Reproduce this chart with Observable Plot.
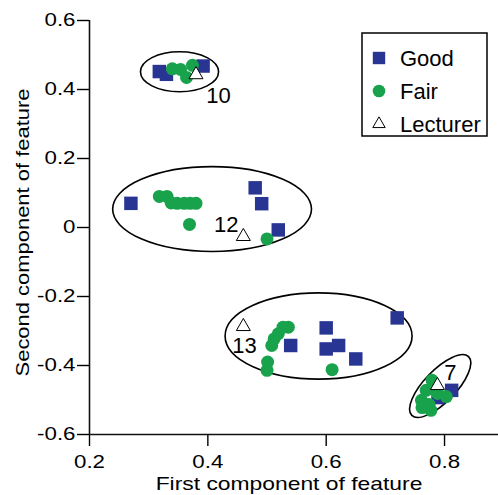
<!DOCTYPE html>
<html><head><meta charset="utf-8">
<script src="https://cdn.jsdelivr.net/npm/d3@7"></script>
<script src="https://cdn.jsdelivr.net/npm/@observablehq/plot@0.6"></script>
<style>
html,body{margin:0;padding:0;background:#fff;}
#wrap{position:relative;width:498px;height:495px;overflow:hidden;}
</style></head><body>
<div id="wrap"></div>
<script>
// ---- data ----
const xTicks = [0.2, 0.4, 0.6, 0.8];
const yTicks = [-0.6, -0.4, -0.2, 0, 0.2, 0.4, 0.6];
const xTitle = "First component of feature";
const yTitle = "Second component of feature";
const seriesNames = ["Good", "Fair", "Lecturer"];

const goodX = [0.318, 0.330, 0.392, 0.270, 0.480, 0.491, 0.519, 0.540, 0.600, 0.600, 0.621, 0.650, 0.720, 0.789, 0.812];
const goodY = [0.452, 0.444, 0.468, 0.070, 0.115, 0.069, -0.007, -0.342, -0.291, -0.352, -0.342, -0.381, -0.262, -0.493, -0.472];

const fairX = [0.340, 0.354, 0.364, 0.374,
  0.318, 0.331, 0.338, 0.348, 0.360, 0.370, 0.380, 0.369, 0.500,
  0.527, 0.536, 0.519, 0.512, 0.508, 0.501, 0.500, 0.610,
  0.779, 0.769, 0.788, 0.803, 0.761, 0.774, 0.762, 0.777];
const fairY = [0.460, 0.458, 0.435, 0.470,
  0.090, 0.090, 0.071, 0.070, 0.070, 0.070, 0.070, 0.009, -0.033,
  -0.289, -0.289, -0.308, -0.323, -0.342, -0.390, -0.414, -0.412,
  -0.443, -0.472, -0.481, -0.490, -0.501, -0.513, -0.522, -0.530];

const lectX = [0.380, 0.460, 0.460, 0.788];
const lectY = [0.443, -0.026, -0.287, -0.458];
const clusterIds = ["10", "12", "13", "7"];
const labelX = [0.418, 0.431, 0.462, 0.810];
const labelY = [0.380, 0.006, -0.342, -0.422];

// cluster ellipses (data units), angle in degrees
const ellCX = [0.353, 0.408, 0.588, 0.7935];
const ellCY = [0.450, 0.052, -0.316, -0.461];
const ellRX = [0.066, 0.168, 0.158, 0.069];
const ellRY = [0.058, 0.123, 0.125, 0.046];
const ellAngle = [0, 0, 0, 46];

const blue = "#283593";
const green = "#18a24c";

// ---- tables ----
const good = goodX.map((x, i) => ({x, y: goodY[i]}));
const fair = fairX.map((x, i) => ({x, y: fairY[i]}));
const lect = lectX.map((x, i) => ({x, y: lectY[i]}));
const labels = clusterIds.map((t, i) => ({t, x: labelX[i], y: labelY[i]}));

const NS = "http://www.w3.org/2000/svg";
const ellipseMark = (index, scales) => {
  const g = document.createElementNS(NS, "g");
  g.setAttribute("aria-label", "cluster ellipse");
  for (let i = 0; i < ellCX.length; i++) {
    const cx = scales.x(ellCX[i]), cy = scales.y(ellCY[i]);
    const rx = Math.abs(scales.x(ellCX[i] + ellRX[i]) - cx);
    const ry = Math.abs(scales.y(ellCY[i] + ellRY[i]) - cy);
    const e = document.createElementNS(NS, "ellipse");
    e.setAttribute("cx", cx); e.setAttribute("cy", cy);
    e.setAttribute("rx", rx); e.setAttribute("ry", ry);
    e.setAttribute("transform", `rotate(${-ellAngle[i]},${cx},${cy})`);
    e.setAttribute("fill", "none");
    e.setAttribute("stroke", "#000");
    e.setAttribute("stroke-width", 1.6);
    g.appendChild(e);
  }
  return g;
};

const plot = Plot.plot({
  width: 498, height: 495,
  marginLeft: 89, marginRight: 0, marginTop: 20, marginBottom: 61,
  x: {domain: [0.2, 0.8912]},
  y: {domain: [-0.6, 0.6]},
  style: {fontFamily: "'Liberation Sans', Arial, sans-serif", fontSize: "18px", color: "#000", background: "#fff", overflow: "visible"},
  marks: [
    Plot.axisX({ticks: xTicks, tickSize: 12, tickPadding: 9, tickFormat: d => String(d), label: null, strokeWidth: 1.4}),
    Plot.axisY({ticks: yTicks, tickSize: 12, tickPadding: 2, tickFormat: d => String(d), label: null, strokeWidth: 1.4}),
    Plot.ruleX([0.2], {stroke: "#111", strokeWidth: 1.6}),
    Plot.ruleY([-0.6], {stroke: "#111", strokeWidth: 1.6}),
    ellipseMark,
    Plot.dot(good, {x: "x", y: "y", symbol: "square", r: 7.6, fill: blue, stroke: "none"}),
    Plot.dot(fair, {x: "x", y: "y", symbol: "circle", r: 6.5, fill: green, stroke: "none"}),
    Plot.dot(lect, {x: "x", y: "y", symbol: "triangle", r: 5.2, fill: "#fff", stroke: "#000", strokeWidth: 1}),
    Plot.text(labels, {x: "x", y: "y", text: "t", fontSize: 22, fill: "#000", textAnchor: "middle", lineAnchor: "middle"}),
    Plot.text([xTitle], {frameAnchor: "bottom", dx: -5, dy: 50, lineAnchor: "middle", textAnchor: "middle", fontSize: 18}),
    Plot.text([yTitle], {frameAnchor: "left", rotate: -90, dx: -66, dy: 5, lineAnchor: "middle", textAnchor: "middle", fontSize: 18})
  ]
});

// horizontal stretch of axis texts to match the wide face of the reference
function stretchEl(t, s) {
  const x = parseFloat(t.getAttribute("x") || 0);
  const tr = t.getAttribute("transform") || "";
  t.setAttribute("transform", `${tr} translate(${x},0) scale(${s},1) translate(${-x},0)`);
}
plot.querySelectorAll('g[aria-label="x-axis tick label"] text, g[aria-label="y-axis tick label"] text').forEach(t => stretchEl(t, 1.24));
plot.querySelectorAll("text").forEach(t => {
  if (t.textContent === xTitle) stretchEl(t, 1.27);
  if (t.textContent === yTitle) stretchEl(t, 1.22);
});

const wrap = document.getElementById("wrap");
wrap.appendChild(plot);

// legend (inside plot area, top right)
const sym = d3.symbol();
const items = [
  {name: seriesNames[0], path: sym.type(d3.symbolSquare).size(Math.PI * 7.0 * 7.0)(), fill: blue, stroke: "none"},
  {name: seriesNames[1], path: sym.type(d3.symbolCircle).size(Math.PI * 6.3 * 6.3)(), fill: green, stroke: "none"},
  {name: seriesNames[2], path: sym.type(d3.symbolTriangle).size(Math.PI * 4.6 * 4.6)(), fill: "#fff", stroke: "#000"}
];
const symY = [58, 91, 124];
let lg = `<svg width="498" height="495" style="position:absolute;left:0;top:0;pointer-events:none" font-family="'Liberation Sans', Arial, sans-serif">`;
lg += `<rect x="362" y="33" width="125" height="103" fill="#fff" stroke="#000" stroke-width="1.5"/>`;
items.forEach((it, i) => {
  lg += `<path d="${it.path}" transform="translate(379,${symY[i]})" fill="${it.fill}" stroke="${it.stroke}" stroke-width="1"/>`;
  lg += `<text x="400" y="${symY[i] + 8}" font-size="22" fill="#000">${it.name}</text>`;
});
lg += `</svg>`;
wrap.insertAdjacentHTML("beforeend", lg);
</script>
</body></html>
